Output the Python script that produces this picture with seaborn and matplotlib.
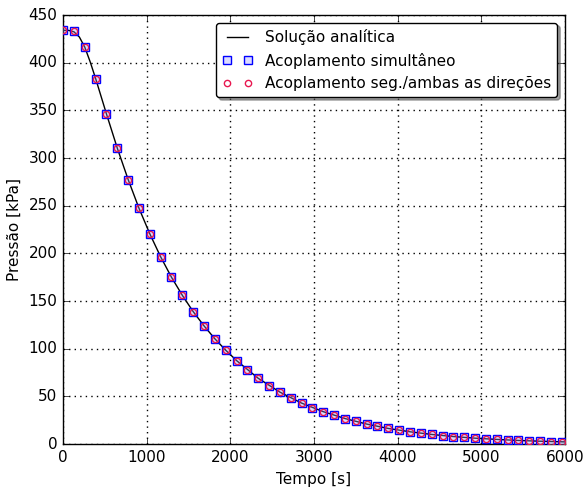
import matplotlib
matplotlib.use("Agg")
import matplotlib.pyplot as plt
import pandas as pd
import seaborn as sns

# time instants of the numerical solutions [s]
tempo = [0, 130, 259, 389, 518, 648, 778, 907, 1037, 1166, 1296, 1426,
         1555, 1685, 1814, 1944, 2074, 2203, 2333, 2462, 2592, 2722, 2851,
         2981, 3110, 3240, 3370, 3499, 3629, 3758, 3888, 4018, 4147, 4277,
         4406, 4536, 4666, 4795, 4925, 5054, 5184, 5314, 5443, 5573, 5702,
         5832, 5962]

# pressure [kPa]
pressao = [434.0, 433.5, 416.5, 383.5, 346.5, 310.5, 277.5, 247.5, 220.5,
           196.5, 175.0, 156.0, 139.0, 124.0, 110.5, 98.5, 87.6, 77.8, 69.0,
           61.3, 54.5, 48.4, 43.0, 38.1, 34.0, 30.2, 26.8, 23.7, 21.0, 18.6,
           16.4, 14.5, 12.9, 11.4, 10.1, 8.9, 7.9, 7.0, 6.2, 5.5, 4.9, 4.3,
           3.8, 3.4, 3.0, 2.7, 2.4]

# analytical solution, a bit denser at the start
tempo_analitico = [0, 65, 130, 195, 259, 324, 389, 518, 648, 778, 907, 1037,
                   1166, 1296, 1426, 1555, 1685, 1814, 1944, 2074, 2333, 2592,
                   2851, 3110, 3370, 3629, 3888, 4147, 4406, 4666, 4925, 5184,
                   5443, 5702, 6000]
pressao_analitica = [434.0, 434.0, 432.5, 427.0, 416.5, 401.0, 383.5, 346.5,
                     310.5, 277.5, 247.5, 220.5, 196.5, 175.0, 156.0, 139.0,
                     124.0, 110.5, 98.5, 87.6, 69.0, 54.5, 43.0, 34.0, 26.8,
                     21.0, 16.4, 12.9, 10.1, 7.9, 6.2, 4.9, 3.8, 3.0, 2.3]

df = pd.DataFrame({"tempo": tempo, "pressao": pressao})
df_an = pd.DataFrame({"tempo": tempo_analitico, "pressao": pressao_analitica})

plt.style.use("classic")
plt.rcParams["font.size"] = 11
fig = plt.figure(figsize=(5.84, 4.88), dpi=100, facecolor="white")
ax = fig.add_axes([0.108, 0.090, 0.8595, 0.879])

sns.lineplot(data=df_an, x="tempo", y="pressao", ax=ax, color="black",
             linewidth=1.0, label="Solução analítica", zorder=2)
sns.lineplot(data=df, x="tempo", y="pressao", ax=ax, linestyle="none",
             marker="s", markersize=6, markerfacecolor=(0.6, 0.6, 1.0, 0.35),
             markeredgecolor="blue", markeredgewidth=1.0, color="blue",
             label="Acoplamento simultâneo", zorder=3)
sns.lineplot(data=df, x="tempo", y="pressao", ax=ax, linestyle="none",
             marker="o", markersize=4.5, markerfacecolor="none",
             markeredgecolor="#e8174f", markeredgewidth=1.0, color="#e8174f",
             label="Acoplamento seg./ambas as direções", zorder=4)

ax.set_xlim(0, 6000)
ax.set_ylim(0, 450)
ax.set_xticks(range(0, 6001, 1000))
ax.set_yticks(range(0, 451, 50))
ax.set_xlabel("Tempo [s]", fontsize=11)
ax.set_ylabel("Pressão [kPa]", fontsize=11)
ax.grid(True, color="black", linestyle=":", linewidth=1.0)
ax.tick_params(labelsize=11)

leg = ax.legend(loc="upper right", numpoints=2, fancybox=True, shadow=True,
                fontsize=11)
leg.get_frame().set_edgecolor("black")

fig.savefig("out.png", dpi=100, facecolor="white")
